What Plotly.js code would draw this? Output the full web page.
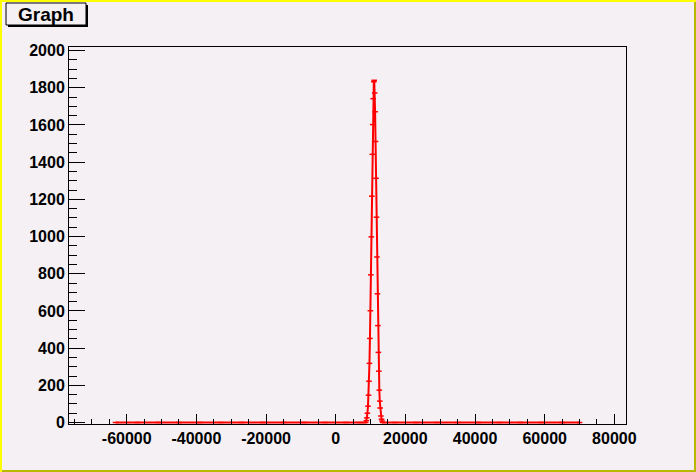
<!DOCTYPE html>
<html>
<head>
<meta charset="utf-8">
<script src="https://cdn.plot.ly/plotly-3.0.1.min.js"></script>
<style>
body { margin: 0; background: #f4f0f4; }
#wrap { position: relative; width: 696px; height: 472px; }
#plot { width: 696px; height: 472px; }
.edge { position: absolute; pointer-events: none; }
</style>
</head>
<body>
<div id="wrap">
  <div id="plot"></div>
  <div class="edge" style="left:0;top:0;width:696px;height:2px;background:#ffff00"></div>
  <div class="edge" style="left:0;top:0;width:2px;height:472px;background:#ffff00"></div>
  <div class="edge" style="right:0;top:2px;width:2px;height:470px;background:#b8b800"></div>
  <div class="edge" style="left:2px;bottom:0;width:694px;height:2px;background:#b8b800"></div>
</div>
<script>
// flat part left of the peak
const baseLeftX = [-63200, -57000, -51000, -45000, -39000, -33000, -27000, -21000, -15000, -9000, -3000, 3000, 7000, 8600]
const baseLeftY = [0, 0, 0, 0, 0, 0, 0, 0, 0, 0, 0, 0, 0, 0]

// the peak, read point by point
const peakX = [8800, 8950, 9100, 9270, 9420, 9560, 9690, 9830, 9950, 10090, 10220, 10360, 10510, 10630, 10770, 10940,
               11060, 11190, 11310, 11440, 11570, 11710, 11840, 11980, 12110, 12250, 12370, 12520, 12650, 12760, 12970, 13150, 13300]
const peakY = [10, 25, 50, 88, 147, 222, 318, 452, 601, 794, 998, 1217, 1442, 1602, 1741, 1832,
               1840, 1772, 1671, 1511, 1313, 1104, 890, 692, 521, 377, 276, 174, 115, 78, 35, 18, 8]

// flat part right of the peak
const baseRightX = [13500, 17000, 23000, 29000, 35000, 41000, 47000, 53000, 59000, 65000, 70000]
const baseRightY = [0, 0, 0, 0, 0, 0, 0, 0, 0, 0, 0]

// tick labels
const xTickVals = [-60000, -40000, -20000, 0, 20000, 40000, 60000, 80000]
const xTickText = ['-60000', '-40000', '-20000', '0', '20000', '40000', '60000', '80000']
const yTickVals = [0, 200, 400, 600, 800, 1000, 1200, 1400, 1600, 1800, 2000]
const yTickText = ['0', '200', '400', '600', '800', '1000', '1200', '1400', '1600', '1800', '2000']

const BG = '#f4f0f4'
const L = 69, R = 70, T = 47, B = 48
const W = 696, H = 472
const PW = W - L - R, PH = H - T - B
const px = x => (x - L) / PW
const py = y => (H - B - y) / PH

const font = { family: 'Liberation Sans, Arial, sans-serif', size: 16, color: '#000000', weight: 'bold' }

const trace = {
    x: baseLeftX.concat(peakX, baseRightX),
    y: baseLeftY.concat(peakY, baseRightY),
    type: 'scatter',
    mode: 'lines+markers',
    line: { color: '#ff0000', width: 2 },
    marker: { symbol: 'line-ew', size: 4, color: '#ff0000', line: { color: '#ff0000', width: 1.5 } },
    hoverinfo: 'skip'
}

const axisCommon = {
    showgrid: false,
    zeroline: false,
    showline: true,
    linecolor: '#000000',
    linewidth: 1,
    mirror: true,
    ticks: 'inside',
    tickcolor: '#000000',
    tickwidth: 1,
    tickfont: font,
    tickmode: 'array'
}

const layout = {
    width: W,
    height: H,
    margin: { l: L, r: R, t: T, b: B, pad: 0 },
    paper_bgcolor: BG,
    plot_bgcolor: BG,
    showlegend: false,
    xaxis: Object.assign({}, axisCommon, {
        range: [-76570, 83340],
        tickvals: xTickVals,
        ticktext: xTickText,
        ticklen: 10,
        minor: { dtick: 5000, tick0: 0, ticklen: 5, ticks: 'inside', tickcolor: '#000000', tickwidth: 1 }
    }),
    yaxis: Object.assign({}, axisCommon, {
        range: [-8, 2019],
        tickvals: yTickVals,
        ticktext: yTickText,
        ticklen: 16,
        minor: { dtick: 50, tick0: 0, ticklen: 8, ticks: 'inside', tickcolor: '#000000', tickwidth: 1 }
    }),
    shapes: [
        { type: 'rect', xref: 'paper', yref: 'paper', x0: px(8), x1: px(88), y0: py(27), y1: py(5),
          fillcolor: '#000000', line: { width: 0 } },
        { type: 'rect', xref: 'paper', yref: 'paper', x0: px(6), x1: px(86), y0: py(25), y1: py(3),
          fillcolor: BG, line: { color: '#000000', width: 1 } }
    ],
    annotations: [
        { text: 'Graph', xref: 'paper', yref: 'paper', x: px(46), y: py(14.5), xanchor: 'center', yanchor: 'middle',
          showarrow: false, font: { family: 'Liberation Sans, Arial, sans-serif', size: 19, color: '#000000', weight: 'bold' } }
    ]
}

Plotly.newPlot('plot', [trace], layout, { staticPlot: true })
</script>
</body>
</html>
